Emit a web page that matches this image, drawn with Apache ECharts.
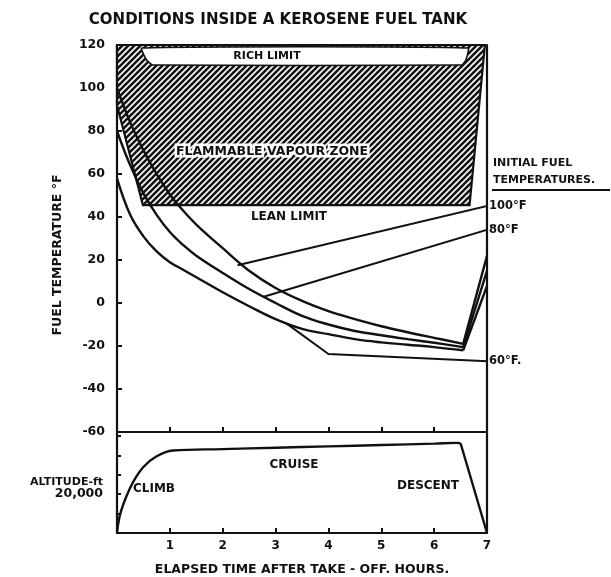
<!DOCTYPE html>
<html><head><meta charset="utf-8">
<script src="https://cdn.jsdelivr.net/npm/echarts@6/dist/echarts.min.js"></script>
<style>html,body{margin:0;padding:0;background:#fff}#c{width:611px;height:577px}</style>
</head><body><div id="c"></div>
<script>
// ---- data ----
const hourTicks = [0,1,2,3,4,5,6,7];
const tempTicks = [-60,-40,-20,0,20,40,60,80,100,120];

const fuelX    = [0,0.25,0.5,0.75,1,1.25,1.5,2,2.5,3,3.5,4,4.5,5,5.5,6,6.55,7];
const fuel100T = [100,84,71,60,50.5,43,36.5,25.5,15,7,1,-3.8,-7.5,-10.8,-13.6,-16.2,-19,22];
const fuel80T  = [80,64,51,41,33,27,22,14,6.5,0,-6,-10,-13,-15,-16.8,-18.5,-20.5,15];
const fuel60T  = [58,41,31,24,19,15.5,12,5,-1.5,-7.5,-12,-14.5,-16.8,-18.3,-19.4,-20.5,-22,8];

const lead100X = [2.28,7.24], lead100T = [17.6,46.5];
const lead80X  = [2.76,7.24], lead80T  = [2.8,35.8];
const lead60X  = [3.21,4.0,7.24], lead60T = [-9.6,-23.7,-27.4];

// flammable vapour zone (hatched) and rich-limit notch
const zoneX = [0,0,0.49,6.67,6.96];
const zoneT = [120,92,45.5,45.5,120];
const richX = [0.47,0.56,0.68,6.52,6.6,6.64];
const richT = [118.6,113,110.7,110.7,113,118.6];

const altX  = [0,0.06,0.18,0.31,0.5,0.75,1.06,2,3,4,5,6,6.42,6.5,7];
const altFt = [0,9700,19000,26500,34000,39500,42500,43200,43900,44600,45300,46000,46400,46200,0];

const pairs = (xs, ys) => xs.map((x,i)=>[x, ys[i]]);
const FONT = 'DejaVu Sans';

function makeHatch(){
  const s = 6, c = document.createElement('canvas');
  c.width = s; c.height = s;
  const g = c.getContext('2d');
  g.fillStyle = '#fff'; g.fillRect(0,0,s,s);
  g.strokeStyle = '#151515'; g.lineWidth = 2.6; g.lineCap = 'square';
  g.beginPath();
  for (let k=-1;k<=1;k++){ g.moveTo(k*s, s); g.lineTo(k*s+s, 0); }
  g.stroke();
  return c;
}
const hatch = makeHatch();

const chart = echarts.init(document.getElementById('c'), null, {renderer:'canvas'});
const axisLine = {show:true, onZero:false, lineStyle:{color:'#111', width:2.2}};
const lineStyle = {color:'#111', width:2.4};

const txt = (x,y,text,size,align,extra) => ({type:'text', x, y, style:Object.assign({text, fill:'#111', font:`bold ${size}px "${FONT}"`, textAlign:align||'center', textVerticalAlign:'middle'}, extra||{})});

function curve(xs, ys, xi, yi){
  const p = pairs(xs, ys);
  return [
    {type:'line', xAxisIndex:xi, yAxisIndex:yi, data:p.slice(0,-1), smooth:0.4, symbol:'none', lineStyle, z:3},
    {type:'line', xAxisIndex:xi, yAxisIndex:yi, data:p.slice(-2), symbol:'none', lineStyle, z:3}
  ];
}
const leaderLabel = t => ({show:true, formatter:t, distance:1, color:'#111', fontFamily:FONT, fontWeight:'bold', fontSize:11.5});

chart.setOption({
  animation:false,
  backgroundColor:'#fff',
  grid:[
    {left:117, right:124, top:45, height:387},
    {left:117, right:124, top:432, height:104}
  ],
  xAxis:[
    {gridIndex:0, type:'value', min:0, max:7, interval:1, axisLine,
     axisTick:{show:true, inside:true, length:5, lineStyle:{color:'#111', width:2}},
     axisLabel:{show:false}, splitLine:{show:false}},
    {gridIndex:1, type:'value', min:0, max:7, interval:1, axisLine,
     axisTick:{show:true, inside:true, length:5, lineStyle:{color:'#111', width:2}},
     axisLabel:{show:true, margin:7, color:'#111', fontFamily:FONT, fontWeight:'bold', fontSize:12,
       formatter:v=> v===0 ? '' : String(v)},
     splitLine:{show:false},
     name:'ELAPSED TIME AFTER TAKE - OFF. HOURS.', nameLocation:'middle', nameGap:30,
     nameTextStyle:{color:'#111', fontFamily:FONT, fontWeight:'bold', fontSize:12.5}}
  ],
  yAxis:[
    {gridIndex:0, type:'value', min:-60, max:120, interval:20, axisLine,
     axisTick:{show:true, inside:true, length:5, lineStyle:{color:'#111', width:2}},
     axisLabel:{color:'#111', fontFamily:FONT, fontWeight:'bold', fontSize:12.5, margin:12},
     splitLine:{show:false}},
    {gridIndex:1, type:'value', min:0, max:52000, interval:10000, axisLine,
     axisTick:{show:true, inside:true, length:4, lineStyle:{color:'#111', width:2}},
     axisLabel:{color:'#111', fontFamily:FONT, fontWeight:'bold', fontSize:12.5, margin:14,
       formatter:v=> v===20000 ? '20,000' : ''},
     splitLine:{show:false}},
    {gridIndex:0, type:'value', position:'right', min:-60, max:120, axisLine,
     axisTick:{show:false}, axisLabel:{show:false}, splitLine:{show:false}},
    {gridIndex:1, type:'value', position:'right', min:0, max:52000, axisLine,
     axisTick:{show:false}, axisLabel:{show:false}, splitLine:{show:false}}
  ],
  series:[
    {type:'custom', xAxisIndex:0, yAxisIndex:0, data:[[0,120]], clip:false, z:1,
     renderItem:(params, api)=>{
       if (params.dataIndex>0) return null;
       const zone = zoneX.map((x,i)=>api.coord([x, zoneT[i]]));
       const rich = richX.map((x,i)=>api.coord([x, richT[i]]));
       return {type:'group', children:[
         {type:'polygon', shape:{points:zone}, style:{fill:{image:hatch, repeat:'repeat'}, stroke:'#111', lineWidth:2.2}},
         {type:'polygon', shape:{points:rich, smooth:0.15}, style:{fill:'#fff', stroke:'#111', lineWidth:1.6}}
       ]};
     }},
    ...curve(fuelX, fuel100T, 0, 0),
    ...curve(fuelX, fuel80T, 0, 0),
    ...curve(fuelX, fuel60T, 0, 0),
    {type:'line', xAxisIndex:0, yAxisIndex:0, data:pairs(lead100X,lead100T), symbol:'none', clip:false, lineStyle:{color:'#111', width:2}, z:3, endLabel:leaderLabel('100°F')},
    {type:'line', xAxisIndex:0, yAxisIndex:0, data:pairs(lead80X,lead80T), symbol:'none', clip:false, lineStyle:{color:'#111', width:2}, z:3, endLabel:leaderLabel('80°F')},
    {type:'line', xAxisIndex:0, yAxisIndex:0, data:pairs(lead60X,lead60T), symbol:'none', clip:false, lineStyle:{color:'#111', width:2}, z:3, endLabel:leaderLabel('60°F.')},
    ...curve(altX, altFt, 1, 1)
  ],
  graphic:[
    txt(278,20,'CONDITIONS INSIDE A KEROSENE FUEL TANK',15),
    Object.assign(txt(267,56,'RICH LIMIT',11), {z:10}),
    Object.assign(txt(272,152,'FLAMMABLE VAPOUR ZONE',12.5,'center',{stroke:'#fff', lineWidth:5}), {z:10}),
    txt(289,217,'LEAN LIMIT',12),
    txt(493,163,'INITIAL FUEL',11,'left'),
    txt(493,180,'TEMPERATURES.',11,'left'),
    {type:'line', shape:{x1:492, y1:190, x2:610, y2:190}, style:{stroke:'#111', lineWidth:2}},
    {type:'text', x:58, y:255, rotation:Math.PI/2, style:{text:'FUEL TEMPERATURE °F', fill:'#111', font:`bold 12.5px "${FONT}"`, textAlign:'center', textVerticalAlign:'middle'}},
    txt(103,482,'ALTITUDE-ft',11,'right'),
    txt(133,489,'CLIMB',12,'left'),
    txt(294,465,'CRUISE',12),
    txt(397,486,'DESCENT',12,'left')
  ]
});
</script></body></html>
